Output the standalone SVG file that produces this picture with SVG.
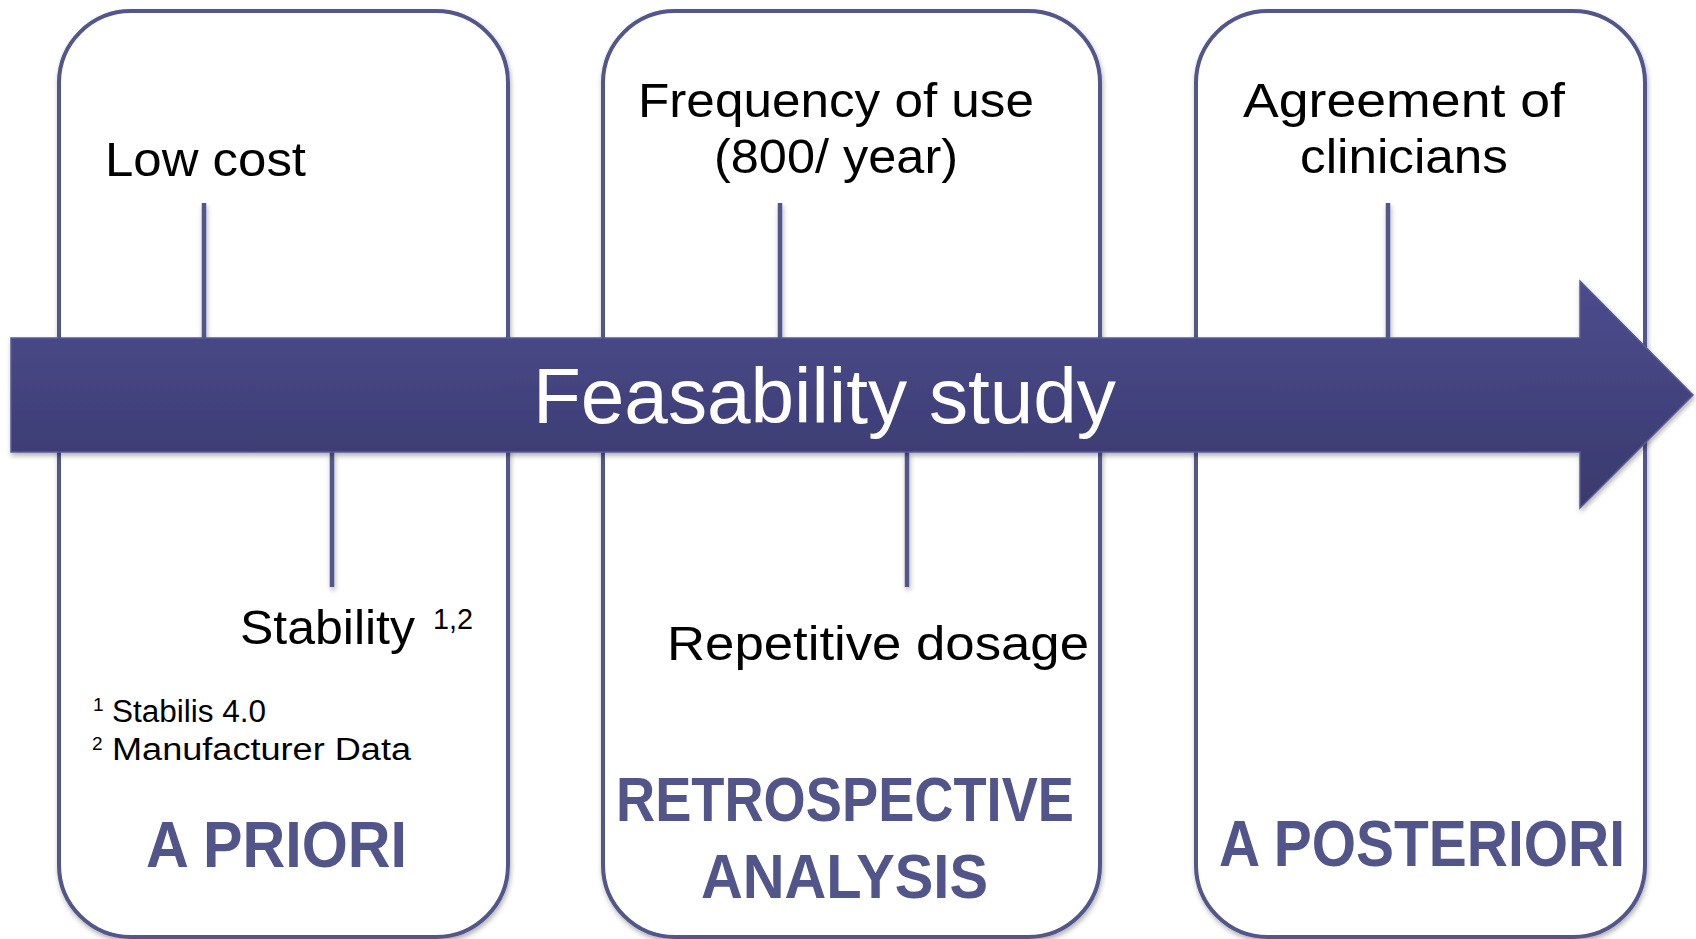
<svg xmlns="http://www.w3.org/2000/svg" width="1696" height="939" viewBox="0 0 1696 939">
<defs>
<linearGradient id="ag" x1="0" y1="0" x2="0" y2="1">
<stop offset="0" stop-color="#4c4c8e"/>
<stop offset="1" stop-color="#3a396d"/>
</linearGradient>
<filter id="sh" filterUnits="userSpaceOnUse" x="0" y="0" width="1696" height="939">
<feDropShadow dx="1" dy="3" stdDeviation="2.5" flood-color="#000" flood-opacity="0.3"/>
</filter>
<style>
.box{fill:#fff;stroke:#53568a;stroke-width:4;filter:url(#sh)}
.ln{stroke:#53568a;stroke-width:4.5;fill:none;filter:url(#sh)}
.t{font-family:"Liberation Sans",Arial,sans-serif;fill:#000}
.b{font-family:"Liberation Sans",Arial,sans-serif;font-weight:bold;fill:#525589}
</style>
</defs>
<rect width="1696" height="939" fill="#fff"/>
<g id="box-a-priori">
<rect class="box" x="59" y="11" width="449" height="926" rx="72"/>
<text class="t" x="105" y="176" font-size="48" textLength="201" lengthAdjust="spacingAndGlyphs">Low cost</text>
<text class="t" x="240" y="644" font-size="48" textLength="175" lengthAdjust="spacingAndGlyphs">Stability</text>
<text class="t" x="433" y="629" font-size="29" textLength="40" lengthAdjust="spacingAndGlyphs">1,2</text>
<text class="t" x="93" y="711" font-size="19">1</text>
<text class="t" x="112" y="722" font-size="31" textLength="154" lengthAdjust="spacingAndGlyphs">Stabilis 4.0</text>
<text class="t" x="92" y="750" font-size="19">2</text>
<text class="t" x="112" y="760" font-size="31" textLength="299" lengthAdjust="spacingAndGlyphs">Manufacturer Data</text>
<text class="b" x="146" y="867" font-size="65" textLength="261" lengthAdjust="spacingAndGlyphs">A PRIORI</text>
</g>
<g id="box-retrospective">
<rect class="box" x="603" y="11" width="497" height="926" rx="72"/>
<text class="t" x="638" y="117" font-size="48" textLength="396" lengthAdjust="spacingAndGlyphs">Frequency of use</text>
<text class="t" x="714" y="173" font-size="48" textLength="244" lengthAdjust="spacingAndGlyphs">(800/ year)</text>
<text class="t" x="667" y="660" font-size="48" textLength="422" lengthAdjust="spacingAndGlyphs">Repetitive dosage</text>
<text class="b" x="616" y="821" font-size="63" textLength="458" lengthAdjust="spacingAndGlyphs">RETROSPECTIVE</text>
<text class="b" x="701" y="898" font-size="63" textLength="287" lengthAdjust="spacingAndGlyphs">ANALYSIS</text>
</g>
<g id="box-a-posteriori">
<rect class="box" x="1196" y="11" width="449" height="926" rx="72"/>
<text class="t" x="1243" y="117" font-size="48" textLength="322" lengthAdjust="spacingAndGlyphs">Agreement of</text>
<text class="t" x="1300" y="173" font-size="48" textLength="208" lengthAdjust="spacingAndGlyphs">clinicians</text>
<text class="b" x="1219" y="866" font-size="65" textLength="406" lengthAdjust="spacingAndGlyphs">A POSTERIORI</text>
</g>
<g id="connectors">
<line class="ln" x1="204" y1="203" x2="204" y2="338"/>
<line class="ln" x1="332" y1="452" x2="332" y2="587"/>
<line class="ln" x1="780" y1="203" x2="780" y2="338"/>
<line class="ln" x1="907" y1="452" x2="907" y2="587"/>
<line class="ln" x1="1388" y1="203" x2="1388" y2="338"/>
</g>
<g id="timeline-arrow">
<polygon points="11,338 1580,338 1580,281 1693,395 1580,508 1580,452 11,452" fill="url(#ag)" stroke="#575a96" stroke-width="1.5" filter="url(#sh)"/>
<text x="533" y="423" font-family="Liberation Sans,Arial,sans-serif" font-size="78" fill="#fff" textLength="583" lengthAdjust="spacingAndGlyphs">Feasability study</text>
</g>
</svg>
